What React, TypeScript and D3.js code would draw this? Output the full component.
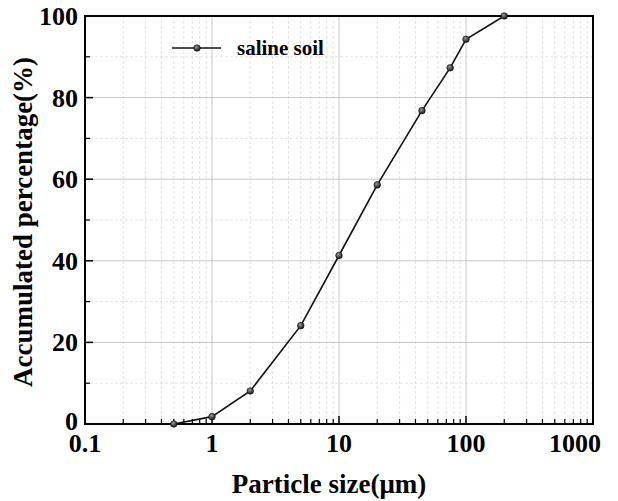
import React from "react";
import * as d3 from "d3";

const sizes = [0.5, 1, 2, 5, 10, 20, 45, 75, 100, 200];
const percents = [0, 1.8, 8.1, 24.1, 41.3, 58.6, 76.8, 87.3, 94.3, 100];
const xTicks = [0.1, 1, 10, 100, 1000];
const yTicks = [0, 20, 40, 60, 80, 100];
const yMinor = [10, 30, 50, 70, 90];
const seriesName = "saline soil";

const W = 618, H = 501;
const m = { left: 85, top: 16, right: 25, bottom: 77 };
const FONT = "'Liberation Serif', 'Times New Roman', serif";

export default function App() {
  const x = d3.scaleLog().domain([0.1, 1000]).range([m.left, W - m.right]);
  const y = d3.scaleLinear().domain([0, 100]).range([H - m.bottom, m.top]);
  const xMinor: number[] = [];
  for (let d = 0.1; d < 1000; d *= 10) for (let k = 2; k <= 9; k++) xMinor.push(+(d * k).toPrecision(3));
  const line = d3.line<number>().x((_, i) => x(sizes[i])).y((v) => y(v));
  const x0 = m.left, x1 = W - m.right, y0 = H - m.bottom, y1 = m.top;
  const lastTick = xTicks[xTicks.length - 1];
  return (
    <svg width={W} height={H} style={{ position: "absolute", left: 0, top: 0, background: "#fff" }} fontFamily={FONT}>
      <defs>
        <radialGradient id="ball" cx="40%" cy="35%" r="65%">
          <stop offset="0%" stopColor="#999" />
          <stop offset="100%" stopColor="#111" />
        </radialGradient>
      </defs>
      {/* minor grid */}
      {xMinor.map((v) => (
        <line key={"xm" + v} x1={x(v)} x2={x(v)} y1={y1} y2={y0} stroke="#dadada" strokeWidth={0.8} strokeDasharray="3,2" />
      ))}
      {yMinor.map((v) => (
        <line key={"ym" + v} x1={x0} x2={x1} y1={y(v)} y2={y(v)} stroke="#dadada" strokeWidth={0.8} strokeDasharray="3,2" />
      ))}
      {/* major grid */}
      {xTicks.map((v) => (
        <line key={"xg" + v} x1={x(v)} x2={x(v)} y1={y1} y2={y0} stroke="#c8c8c8" strokeWidth={1} />
      ))}
      {yTicks.map((v) => (
        <line key={"yg" + v} x1={x0} x2={x1} y1={y(v)} y2={y(v)} stroke="#c8c8c8" strokeWidth={1} />
      ))}
      {/* frame */}
      <rect x={x0} y={y1} width={x1 - x0} height={y0 - y1} fill="none" stroke="#000" strokeWidth={2} />
      {/* ticks */}
      {xTicks.map((v) => (
        <line key={"xt" + v} x1={x(v)} x2={x(v)} y1={y0} y2={y0 - 8} stroke="#000" strokeWidth={1.5} />
      ))}
      {xMinor.map((v) => (
        <line key={"xmt" + v} x1={x(v)} x2={x(v)} y1={y0} y2={y0 - 5} stroke="#000" strokeWidth={1.2} />
      ))}
      {yTicks.map((v) => (
        <line key={"yt" + v} x1={x0} x2={x0 + 8} y1={y(v)} y2={y(v)} stroke="#000" strokeWidth={1.5} />
      ))}
      {yMinor.map((v) => (
        <line key={"ymt" + v} x1={x0} x2={x0 + 5} y1={y(v)} y2={y(v)} stroke="#000" strokeWidth={1.2} />
      ))}
      {/* labels */}
      {xTicks.map((v) => (
        <text
          key={"xl" + v}
          x={v === lastTick ? x(v) + 8 : x(v)}
          y={y0 + 28}
          textAnchor={v === lastTick ? "end" : "middle"}
          fontSize={26}
          fontWeight="bold"
        >
          {String(v)}
        </text>
      ))}
      {yTicks.map((v) => (
        <text key={"yl" + v} x={x0 - 7} y={y(v) + (v === 0 ? 6 : 9)} textAnchor="end" fontSize={26} fontWeight="bold">
          {String(v)}
        </text>
      ))}
      <text x={329} y={493} textAnchor="middle" fontSize={27} fontWeight="bold">
        Particle size(μm)
      </text>
      <text transform={`translate(32,${(y0 + y1) / 2 + 2}) rotate(-90)`} textAnchor="middle" fontSize={27} fontWeight="bold">
        Accumulated percentage(%)
      </text>
      {/* series */}
      <path d={line(percents) || ""} fill="none" stroke="#111" strokeWidth={1.6} />
      {percents.map((v, i) => (
        <circle key={"p" + i} cx={x(sizes[i])} cy={y(v)} r={3.3} fill="url(#ball)" stroke="#111" strokeWidth={0.6} />
      ))}
      {/* legend */}
      <line x1={172} x2={221} y1={48} y2={48} stroke="#111" strokeWidth={1.6} />
      <circle cx={197} cy={48} r={3.3} fill="url(#ball)" stroke="#111" strokeWidth={0.6} />
      <text x={237} y={55} fontSize={21} fontWeight="bold">
        {seriesName}
      </text>
    </svg>
  );
}
